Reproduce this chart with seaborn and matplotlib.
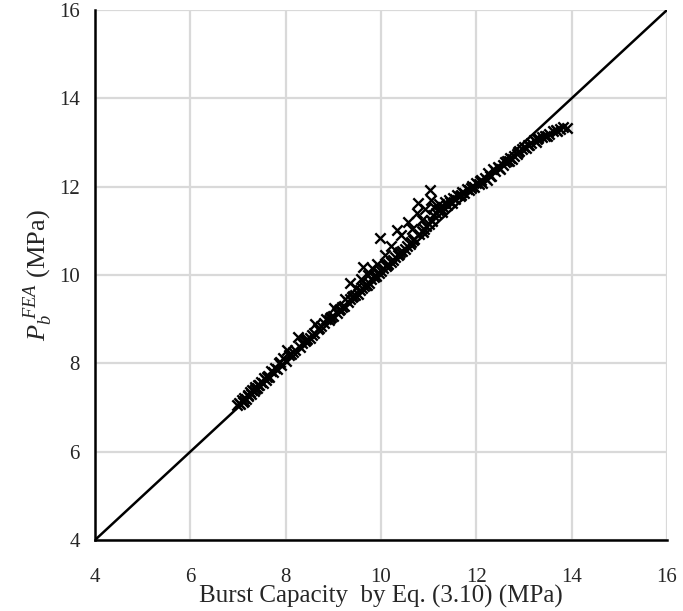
import matplotlib
matplotlib.use("Agg")
import matplotlib.pyplot as plt
import seaborn as sns
import pandas as pd

# ---- data ----
x_eq = [6.98, 7.02, 7.05, 7.08, 7.10, 7.13, 7.16, 7.20, 7.22, 7.25, 7.28, 7.30, 7.33, 7.36, 7.40,
        7.42, 7.45, 7.48, 7.52, 7.55, 7.58, 7.62, 7.65, 7.70, 7.74, 7.78, 7.82, 7.86, 7.90, 7.95,
        8.00, 8.02, 8.08, 8.15, 8.20, 8.25, 8.30, 8.35, 8.40, 8.45, 8.50, 8.55, 8.60, 8.62, 8.70,
        8.75, 8.80, 8.85, 8.90, 8.95, 9.00, 9.02, 9.08, 9.12, 9.18, 9.22, 9.25, 9.30, 9.35, 9.35,
        9.40, 9.45, 9.48, 9.52, 9.55, 9.58, 9.60, 9.62, 9.65, 9.70, 9.72, 9.75, 9.80, 9.82, 9.85,
        9.90, 9.92, 9.95, 9.98, 10.00, 10.05, 10.08, 10.10, 10.15, 10.20, 10.22, 10.25, 10.33, 10.30,
        10.35, 10.40, 10.42, 10.45, 10.50, 10.57, 10.55, 10.60, 10.65, 10.67, 10.70, 10.75, 10.78,
        10.80, 10.85, 10.88, 10.90, 10.92, 10.95, 11.00, 11.03, 11.05, 11.05, 11.10, 11.12, 11.15,
        11.20, 11.22, 11.25, 11.30, 11.35, 11.38, 11.42, 11.45, 11.50, 11.55, 11.60, 11.65, 11.70,
        11.75, 11.80, 11.85, 11.90, 11.95, 12.00, 12.05, 12.10, 12.12, 12.18, 12.22, 12.25, 12.30,
        12.35, 12.40, 12.45, 12.50, 12.55, 12.60, 12.65, 12.70, 12.75, 12.80, 12.85, 12.90, 12.95,
        13.00, 13.05, 13.10, 13.15, 13.20, 13.25, 13.30, 13.38, 13.45, 13.52, 13.60, 13.68, 13.75,
        13.82, 13.90,
        7.12, 7.35, 7.60, 7.88, 8.12, 8.42, 8.68, 8.92, 9.15, 9.42, 9.68, 9.88, 10.12, 10.38, 10.62,
        10.85, 11.08, 11.28, 11.48, 11.68, 11.88, 12.08, 12.28, 12.48, 12.68, 12.88, 13.08, 13.28,
        13.48, 13.70]
y_fea = [7.05, 7.10, 7.08, 7.18, 7.12, 7.22, 7.20, 7.28, 7.25, 7.35, 7.30, 7.40, 7.38, 7.46, 7.44,
         7.52, 7.50, 7.58, 7.55, 7.66, 7.62, 7.72, 7.70, 7.82, 7.80, 7.90, 7.88, 8.00, 7.96, 8.12,
         8.05, 8.30, 8.18, 8.25, 8.30, 8.60, 8.38, 8.45, 8.50, 8.55, 8.58, 8.65, 8.68, 8.90, 8.80,
         8.85, 8.92, 9.00, 8.98, 9.05, 9.08, 9.25, 9.15, 9.20, 9.28, 9.30, 9.45, 9.38, 9.45, 9.82,
         9.50, 9.55, 9.70, 9.58, 9.65, 9.90, 9.70, 10.18, 9.75, 9.78, 10.00, 9.82, 9.90, 10.15, 9.95,
         9.98, 10.25, 10.05, 10.84, 10.10, 10.15, 10.45, 10.20, 10.25, 10.30, 10.65, 10.35, 11.02, 10.40,
         10.45, 10.52, 10.90, 10.55, 10.60, 11.20, 10.65, 10.70, 11.05, 10.79, 10.82, 11.40, 11.63,
         10.92, 11.25, 10.97, 11.05, 11.50, 11.10, 11.15, 11.92, 11.70, 11.25, 11.35, 11.55, 11.40,
         11.48, 11.60, 11.50, 11.55, 11.65, 11.58, 11.70, 11.65, 11.75, 11.72, 11.82, 11.80, 11.88,
         11.85, 11.95, 11.92, 12.02, 12.00, 12.08, 12.05, 12.15, 12.08, 12.20, 12.15, 12.30, 12.25,
         12.40, 12.35, 12.45, 12.40, 12.50, 12.55, 12.58, 12.65, 12.62, 12.70, 12.75, 12.80, 12.85,
         12.90, 12.88, 12.95, 13.00, 13.05, 13.02, 13.10, 13.12, 13.15, 13.20, 13.25, 13.28, 13.30,
         13.35, 13.32,
         7.15, 7.42, 7.70, 8.02, 8.22, 8.52, 8.78, 9.02, 9.22, 9.52, 9.78, 10.00, 10.22, 10.48, 10.75,
         11.00, 11.22, 11.42, 11.62, 11.82, 11.98, 12.12, 12.25, 12.42, 12.58, 12.78, 12.95, 13.08,
         13.15, 13.25]
line_x = [4, 16]
line_y = [4, 16]
ticks = [4, 6, 8, 10, 12, 14, 16]

df = pd.DataFrame({"x": x_eq, "y": y_fea})

sns.set_theme(style="white")
plt.rcParams["font.family"] = ["Liberation Serif", "DejaVu Serif"]
plt.rcParams["mathtext.fontset"] = "custom"
plt.rcParams["mathtext.rm"] = "Liberation Serif"
plt.rcParams["mathtext.it"] = "Liberation Serif:italic"

fig = plt.figure(figsize=(6.83, 6.11), dpi=100)
ax = fig.add_axes([95 / 683, 71 / 611, 572 / 683, 530 / 611])

ax.plot(line_x, line_y, color="black", lw=1.8, zorder=2)
sns.scatterplot(data=df, x="x", y="y", marker="x", s=55, color="black",
                linewidth=1.7, ax=ax, zorder=3, legend=False)

ax.set_xlim(4, 16)
ax.set_ylim(4, 16)
ax.set_xticks(ticks)
ax.set_yticks(ticks)
ax.set_xticklabels([str(t) for t in ticks], fontsize=15)
ax.set_yticklabels([str(t) for t in ticks], fontsize=15)
ax.tick_params(axis="x", length=0, pad=20)
ax.tick_params(axis="y", length=0, pad=11)
ax.grid(True, color="#d9d9d9", lw=1.6)
ax.set_axisbelow(True)
for s in ["top", "right"]:
    ax.spines[s].set_visible(False)
for s in ["left", "bottom"]:
    ax.spines[s].set_color("black")
    ax.spines[s].set_linewidth(1.8)

ax.set_xlabel("Burst Capacity  by Eq. (3.10) (MPa)", fontsize=18, labelpad=-1)
ax.set_ylabel(r"$P_b^{\ FEA}$ (MPa)", fontsize=19, labelpad=3)

fig.savefig("out.png", dpi=100)
